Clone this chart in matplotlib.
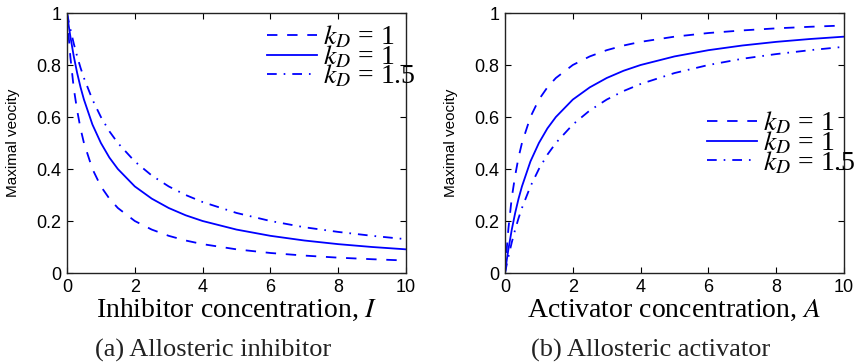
import matplotlib
matplotlib.use("Agg")
import matplotlib.pyplot as plt

plt.rcParams["mathtext.fontset"] = "stix"
plt.rcParams["lines.scale_dashes"] = False

# concentration values (same grid for both panels)
conc = [0, 0.05, 0.1, 0.2, 0.3, 0.4, 0.5, 0.75, 1, 1.25, 1.5, 2, 2.5, 3, 3.5,
        4, 5, 6, 7, 8, 9, 10]

# (a) allosteric inhibitor
inh_dashed = [1.00, 0.91, 0.83, 0.71, 0.625, 0.555, 0.50, 0.40, 0.333, 0.286,
              0.25, 0.20, 0.167, 0.143, 0.125, 0.111, 0.091, 0.077, 0.067,
              0.059, 0.053, 0.048]
inh_solid = [1.00, 0.952, 0.909, 0.833, 0.769, 0.714, 0.667, 0.571, 0.50,
             0.444, 0.40, 0.333, 0.286, 0.25, 0.222, 0.20, 0.167, 0.143,
             0.125, 0.111, 0.10, 0.091]
inh_dashdot = [1.00, 0.968, 0.938, 0.882, 0.833, 0.789, 0.75, 0.667, 0.60,
               0.545, 0.50, 0.429, 0.375, 0.333, 0.30, 0.273, 0.231, 0.20,
               0.176, 0.158, 0.143, 0.130]

# (b) allosteric activator
act_dashed = [0, 0.09, 0.17, 0.29, 0.375, 0.445, 0.50, 0.60, 0.667, 0.714,
              0.75, 0.80, 0.833, 0.857, 0.875, 0.889, 0.909, 0.923, 0.933,
              0.941, 0.947, 0.952]
act_solid = [0, 0.048, 0.091, 0.167, 0.231, 0.286, 0.333, 0.429, 0.50, 0.556,
             0.60, 0.667, 0.714, 0.75, 0.778, 0.80, 0.833, 0.857, 0.875,
             0.889, 0.90, 0.909]
act_dashdot = [0, 0.032, 0.062, 0.118, 0.167, 0.211, 0.25, 0.333, 0.40,
               0.455, 0.50, 0.571, 0.625, 0.667, 0.70, 0.727, 0.769, 0.80,
               0.824, 0.842, 0.857, 0.870]

legend_labels = ["$k_D$ = 1", "$k_D$ = 1", "$k_D$ = 1.5"]
x_ticks = [0, 2, 4, 6, 8, 10]
y_ticks = [0, 0.2, 0.4, 0.6, 0.8, 1]
y_ticklabels = ["0", "0.2", "0.4", "0.6", "0.8", "1"]

fig = plt.figure(figsize=(8.6, 3.64), dpi=100)
ax1 = fig.add_axes([67 / 860, 91 / 364, 339 / 860, 260 / 364])
ax2 = fig.add_axes([505 / 860, 91 / 364, 339 / 860, 260 / 364])

panels = [
    (ax1, [inh_dashed, inh_solid, inh_dashdot],
     "Inhibitor concentration, $I$", "(a) Allosteric inhibitor",
     (0.59, 0.831), 213),
    (ax2, [act_dashed, act_solid, act_dashdot],
     "Activator concentration, $A$", "(b) Allosteric activator",
     (0.596, 0.50), 651),
]

# matlab-like '--', '-', '-.'
styles = [(7.5, 7), None, (7, 5, 1.2, 5)]

for ax, series, xlabel, caption, leg_pos, cap_x in panels:
    for vals, dash, lab in zip(series, styles, legend_labels):
        line, = ax.plot(conc, vals, color="blue", lw=1.3, label=lab)
        if dash is not None:
            line.set_dashes(dash)

    ax.set_xlim(0, 10)
    ax.set_ylim(0, 1)
    ax.set_xticks(x_ticks)
    ax.set_yticks(y_ticks)
    ax.set_yticklabels(y_ticklabels)
    ax.tick_params(direction="in", top=True, right=True, length=4, width=0.8,
                   labelsize=13, pad=4)
    for lbl in ax.get_xticklabels() + ax.get_yticklabels():
        lbl.set_family("Liberation Sans")
    for sp in ax.spines.values():
        sp.set_linewidth(1.0)
        sp.set_color("#222222")

    ax.set_ylabel("Maximal veocity", family="Liberation Sans", fontsize=11)
    ax.yaxis.set_label_coords(-0.14, 0.5)
    ax.set_xlabel(xlabel, family="Liberation Serif", fontsize=20)
    ax.xaxis.set_label_coords(0.5, -0.169)
    ax.xaxis.label.set_va("baseline")

    ax.legend(loc="center left", bbox_to_anchor=leg_pos, frameon=False,
              prop={"family": "Liberation Serif", "size": 20},
              borderpad=0, borderaxespad=0, handlelength=1.8,
              handletextpad=0.2, labelspacing=-0.25)

    fig.text(cap_x / 860, 7 / 364, caption, family="Liberation Serif",
             fontsize=19, ha="center", va="baseline", color="#222222")

fig.savefig("out.png", dpi=100)
